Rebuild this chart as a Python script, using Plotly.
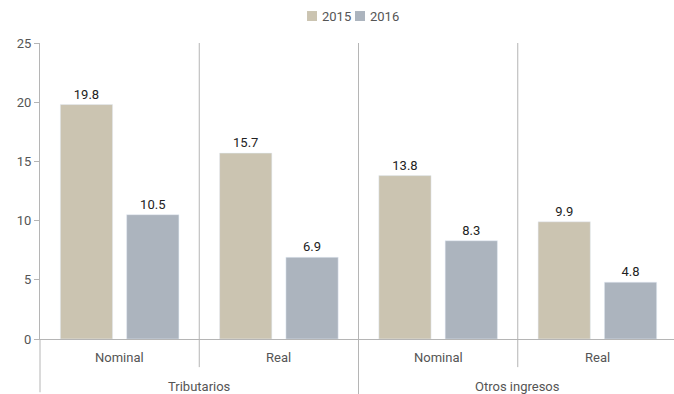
import plotly.graph_objects as go

grupos = ["Tributarios", "Tributarios", "Otros ingresos", "Otros ingresos"]
tipos = ["Nominal", "Real", "Nominal", "Real"]
v2015 = [19.8, 15.7, 13.8, 9.9]
v2016 = [10.5, 6.9, 8.3, 4.8]
series = ["2015", "2016"]
colores = ["#cbc4b1", "#acb4be"]

fnt = "Roboto"
gris = "#b5b5b5"
n = len(tipos)

fig = go.Figure()
for nombre, vals, col in zip(series, [v2015, v2016], colores):
    fig.add_trace(go.Bar(
        x=[grupos, tipos], y=vals, name=nombre,
        marker_color=col,
        text=[f"{v:.1f}" for v in vals], textposition="outside",
        textfont=dict(size=13, color="#222222", family=fnt),
        cliponaxis=False, showlegend=False,
    ))

# separators: between sub-categories (short) and between groups (long)
for i in range(1, n):
    largo = grupos[i] != grupos[i - 1]
    fig.add_shape(type="line", xref="paper", yref="paper",
                  x0=i / n, x1=i / n, y0=-0.186 if largo else -0.095, y1=1,
                  line=dict(color=gris, width=1))
# left axis extension
fig.add_shape(type="line", xref="paper", yref="paper", x0=0, x1=0,
              y0=-0.18, y1=0, line=dict(color=gris, width=1))

# category labels
for i, t in enumerate(tipos):
    fig.add_annotation(text=t, xref="paper", yref="paper", x=(i + 0.5) / n,
                       y=-0.064, showarrow=False, xanchor="center", yanchor="middle",
                       font=dict(size=13, color="#555555"))
vistos = []
for g in grupos:
    if g in vistos:
        continue
    vistos.append(g)
    idx = [i for i, x in enumerate(grupos) if x == g]
    xc = (idx[0] + idx[-1] + 1) / 2 / n
    fig.add_annotation(text=g, xref="paper", yref="paper", x=xc, y=-0.162,
                       showarrow=False, xanchor="center", yanchor="middle",
                       font=dict(size=13, color="#555555"))

# compact legend at the top
leg_x = [0.4192, 0.4945]
for nombre, col, lx in zip(series, colores, leg_x):
    fig.add_shape(type="rect", xref="paper", yref="paper",
                  x0=lx, x1=lx + 0.0157, y0=1.0743, y1=1.108,
                  fillcolor=col, line=dict(width=0))
    fig.add_annotation(text=nombre, xref="paper", yref="paper", x=lx + 0.0205,
                       y=1.091, showarrow=False, xanchor="left", yanchor="middle",
                       font=dict(size=13, color="#555555"))

fig.update_layout(
    width=677, height=394,
    margin=dict(l=40, r=0, t=43, b=55, autoexpand=False),
    plot_bgcolor="white", paper_bgcolor="white",
    font=dict(family=fnt, size=13, color="#555555"),
    barmode="group", bargap=0.167, bargroupgap=0.212,
    showlegend=False,
    xaxis=dict(type="multicategory", showline=True, linecolor=gris, linewidth=1,
               showgrid=False, showdividers=False, showticklabels=False,
               automargin=False),
    yaxis=dict(range=[0, 25], dtick=5, showline=True, linecolor=gris, linewidth=1,
               showgrid=False, zeroline=False, ticks="outside", ticklen=5,
               tickcolor=gris, tickfont=dict(size=13, color="#555555"),
               automargin=False),
)

fig.write_html("out.html", config={"displayModeBar": False},
               post_script="document.body.style.margin='0';"
                           "document.body.style.overflow='hidden';")
